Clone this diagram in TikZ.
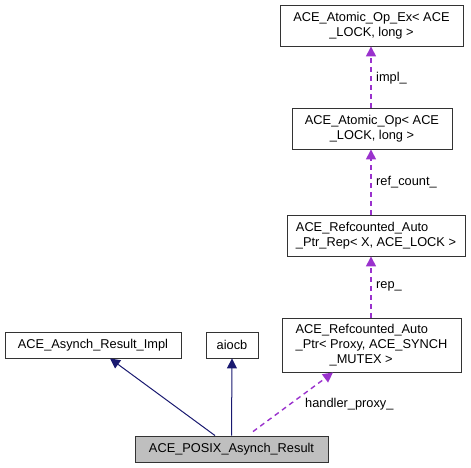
\documentclass[tikz,border=0pt]{standalone}
\usepackage{fontspec}
\setmainfont{Liberation Sans}
\usetikzlibrary{arrows.meta}
\definecolor{edgeblue}{HTML}{191970}
\definecolor{edgepurple}{HTML}{9A32CD}
\tikzset{
  cls/.style={draw=black!80, line width=0.9pt, inner sep=0pt, font=\fontsize{12.8}{15}\selectfont},
  inherit/.style={draw=edgeblue, line width=1pt, -{Triangle[length=10pt,width=10pt]}},
  usage/.style={draw=edgepurple, line width=1.4pt, dash pattern=on 5pt off 4pt, -{Triangle[length=10pt,width=10pt,fill=edgepurple]}},
  lbl/.style={font=\fontsize{12.8}{15}\selectfont, inner sep=0pt}
}
\begin{document}
\begin{tikzpicture}[x=1pt,y=-1pt]
\useasboundingbox (0,0) rectangle (471,468);
% classes
\node[cls, minimum width=183pt, minimum height=41pt, align=center] (opex) at (371.5,25.5) {ACE\_Atomic\_Op\_Ex< ACE\\\_LOCK, long >};
\node[cls, minimum width=160pt, minimum height=41pt, align=center] (op) at (372,128.5) {ACE\_Atomic\_Op< ACE\\\_LOCK, long >};
\node[cls, minimum width=178pt, minimum height=41pt, align=left] (rep) at (376,235.5) {ACE\_Refcounted\_Auto\\\_Ptr\_Rep< X, ACE\_LOCK >};
\node[cls, minimum width=179pt, minimum height=54pt, align=left] (ptr) at (371.5,345) {ACE\_Refcounted\_Auto\\\_Ptr< Proxy, ACE\_SYNCH\\\hspace*{34pt}\_MUTEX >};
\node[cls, minimum width=176pt, minimum height=26pt] (impl) at (93,345) {ACE\_Asynch\_Result\_Impl};
\node[cls, minimum width=52pt, minimum height=26pt] (aiocb) at (232,345) {aiocb};
\node[cls, fill=black!25, minimum width=193pt, minimum height=26pt] (posix) at (231.5,449) {ACE\_POSIX\_Asynch\_Result};
% inheritance
\draw[inherit] ([xshift=-16.5pt]posix.north) -- ([xshift=17pt]impl.south);
\draw[inherit] (posix.north) -- (aiocb.south);
% usage
\draw[usage] ([xshift=21.5pt,yshift=4pt]posix.north) -- ([xshift=-38.5pt]ptr.south);
\node[lbl, anchor=west] (lproxy) at (305,404) {handler\_proxy\_};
\draw[usage] ([xshift=-0.5pt]ptr.north) -- ([xshift=-5pt]rep.south);
\node[lbl, anchor=west] (lrep) at (376,286) {rep\_};
\draw[usage] ([xshift=-5pt]rep.north) -- ([xshift=-1pt]op.south);
\node[lbl, anchor=west] (lref) at (376,182) {ref\_count\_};
\draw[usage] ([xshift=-1pt]op.north) -- ([xshift=-0.5pt]opex.south);
\node[lbl, anchor=west] (limpl) at (376,78) {impl\_};
\end{tikzpicture}
\end{document}
